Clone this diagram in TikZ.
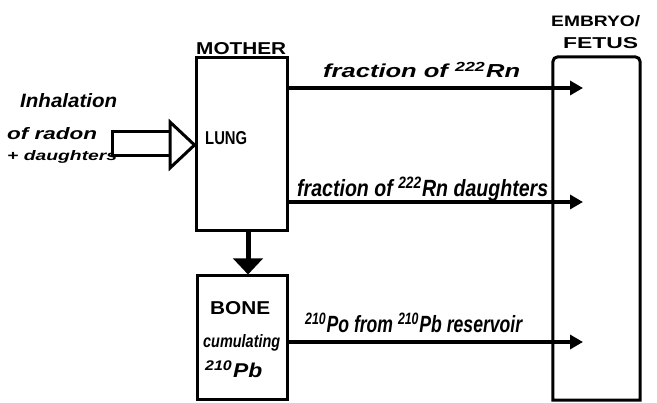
\documentclass[tikz,border=0pt]{standalone}
\usepackage{fontspec}
\usepackage{graphicx}
\setmainfont{Liberation Sans}
\usetikzlibrary{arrows.meta}
\newcommand\fitbox[3]{\resizebox{#1}{#2}{#3}}
\begin{document}
\begin{tikzpicture}[x=1pt,y=-1pt,
  box/.style={draw, line width=3pt, inner sep=0pt},
  caps/.style={inner sep=0pt, font=\bfseries},
  hand/.style={inner sep=0pt, font=\bfseries\itshape},
  flow/.style={line width=4pt, -{Triangle[length=13pt,width=14pt]}},
  down/.style={line width=5pt, -{Triangle[length=16pt,width=29pt]}},
  hollow/.style={draw, line width=3pt, fill=white, line join=miter}]
\useasboundingbox (0,0) rectangle (657,403);
\fill[white] (0,0) rectangle (657,403);
% boxes
\node[box, minimum width=91pt, minimum height=173pt] (lung) at (241.5,144.5) {};
\node[box, minimum width=90pt, minimum height=124pt] (bone) at (242,338) {};
\node[inner sep=0pt, minimum width=87pt, minimum height=343pt] (embryo) at (596.5,228.5) {};
\draw[line width=3pt, line join=miter] (embryo.south west)
  {[rounded corners=5pt] -- (embryo.north west) -- (embryo.north east)}
  -- (embryo.south east) -- cycle;
% captions
\node[caps, anchor=base west] (mother) at (196,55) {\fitbox{90pt}{12pt}{MOTHER}};
\node[caps, anchor=base west] (embryoT) at (551,27) {\fitbox{89pt}{11pt}{EMBRYO/}};
\node[caps, anchor=base west] (fetusT) at (563,49) {\fitbox{75pt}{11pt}{FETUS}};
\node[caps, anchor=base west] (lungT) at (205,145) {\fitbox{42pt}{13pt}{LUNG}};
\node[caps, anchor=base west] (boneT) at (210,315) {\fitbox{60pt}{13pt}{BONE}};
\node[hand, anchor=base west] (cumT) at (203,348) {\fitbox{77pt}{13pt}{cumulating}};
\node[hand, anchor=base west] (pbT) at (205,378) {\fitbox{57pt}{17pt}{\textsuperscript{210}Pb}};
% inhalation text
\node[hand, anchor=base west] (inh1) at (20,108) {\fitbox{97pt}{14pt}{Inhalation}};
\node[hand, anchor=base west] (inh2) at (7,140) {\fitbox{90pt}{12pt}{of radon}};
\node[hand, anchor=base west] (inh3) at (7,161) {\fitbox{110pt}{10pt}{+ daughters}};
% hollow arrow into lung
\coordinate (intip) at (lung.west |- 0,145);
\draw[hollow] (112,132) rectangle (170,156);
\draw[hollow] (170,122) -- (intip) -- (170,168) -- cycle;
% flows to embryo
\coordinate (t1) at (583,88);
\coordinate (t2) at (583,202);
\coordinate (t3) at (583,342);
\draw[flow] (lung.east |- t1) -- (t1);
\draw[flow] (lung.east |- t2) -- (t2);
\draw[flow] (bone.east |- t3) -- (t3);
\node[hand, anchor=base west] (l1) at (323,78) {\fitbox{197pt}{16pt}{fraction of \textsuperscript{222}Rn}};
\node[hand, anchor=base west] (l2) at (297,197) {\fitbox{251pt}{20pt}{fraction of \textsuperscript{222}Rn daughters}};
\node[hand, anchor=base west] (l3) at (305,333) {\fitbox{217pt}{20pt}{\textsuperscript{210}Po from \textsuperscript{210}Pb reservoir}};
% lung to bone
\draw[down] (lung.south -| 248,0) -- (bone.north -| 248,0);
\end{tikzpicture}
\end{document}
